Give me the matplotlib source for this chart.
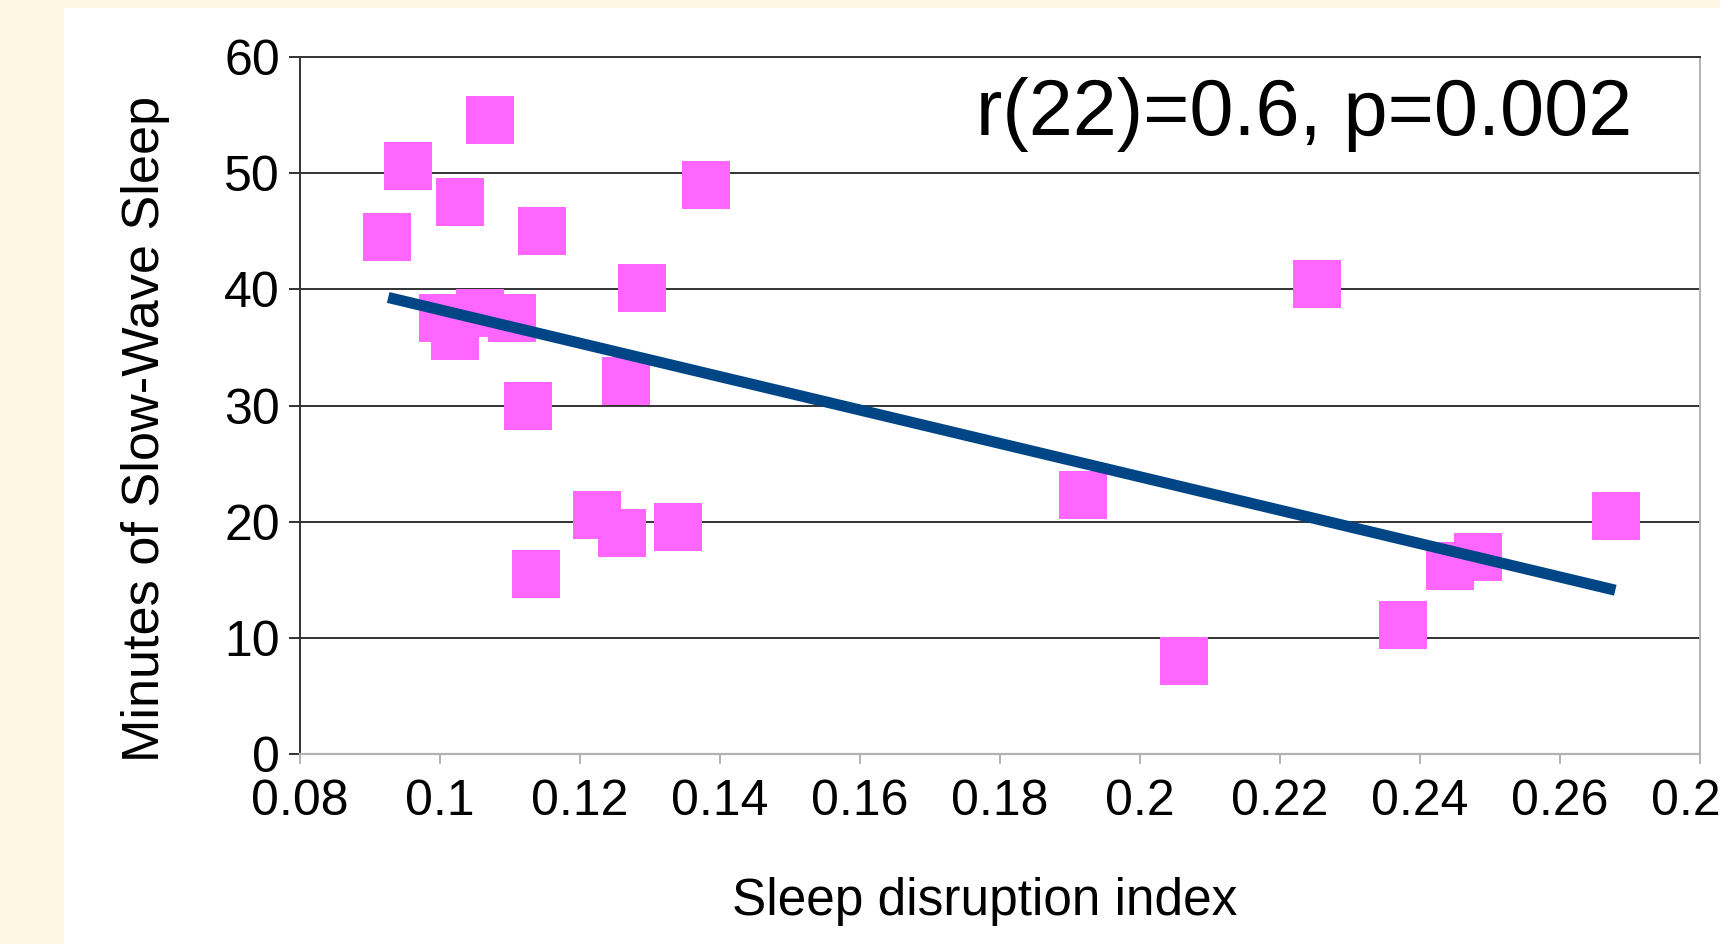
import matplotlib
matplotlib.use("Agg")
import matplotlib.pyplot as plt
from matplotlib.patches import Rectangle

# values
disruption = [0.0924, 0.0954, 0.1071, 0.1029, 0.1145, 0.1380, 0.1289, 0.2253,
              0.1004, 0.1021, 0.1057, 0.1103, 0.1126, 0.1266, 0.1224, 0.1260,
              0.1340, 0.1137, 0.1919, 0.2063, 0.2375, 0.2443, 0.2483, 0.2680]
sws_minutes = [44.5, 50.6, 54.6, 47.5, 45.0, 49.0, 40.1, 40.5,
               37.5, 36.0, 38.0, 37.5, 30.0, 32.1, 20.6, 19.0,
               19.5, 15.5, 22.3, 8.0, 11.1, 16.2, 17.0, 20.5]

# ends of the trend line
trend_x = [0.0926, 0.2679]
trend_y = [39.3, 14.1]

x_ticks = [0.08, 0.1, 0.12, 0.14, 0.16, 0.18, 0.2, 0.22, 0.24, 0.26, 0.28]
x_tick_labels = ["0.08", "0.1", "0.12", "0.14", "0.16", "0.18", "0.2", "0.22", "0.24", "0.26", "0.28"]
y_ticks = [0, 10, 20, 30, 40, 50, 60]

stats_text = "r(22)=0.6, p=0.002"

plt.rcParams['font.family'] = ['Liberation Sans', 'DejaVu Sans']

W, H = 1720, 944
fig = plt.figure(figsize=(W / 100, H / 100), dpi=100, facecolor='#fdf6e3')

# white panel over the cream page
fig.patches.append(Rectangle((64 / W, 0), 1 - 64 / W, (H - 8) / H,
                             transform=fig.transFigure, facecolor='white',
                             edgecolor='none', zorder=-10))

ax = fig.add_axes([300 / W, (H - 754) / H, 1400 / W, 697 / H])
ax.set_facecolor('white')

grid_col = '#333333'
light_col = '#b3b3b3'

# horizontal grid lines
for yv in y_ticks[1:]:
    ax.axhline(yv, color=grid_col, lw=1.4, zorder=1)

# data points and trend line
ax.plot(disruption, sws_minutes, 's', ms=34, mew=0, color='#ff66ff', zorder=3)
ax.plot(trend_x, trend_y, color='#004586', lw=8, solid_capstyle='butt', zorder=4)

ax.set_xlim(0.08, 0.28)
ax.set_ylim(0, 60)
ax.set_xticks(x_ticks)
ax.set_xticklabels(x_tick_labels)
ax.set_yticks(y_ticks)

# Formatting Axes
ax.spines['left'].set_color(grid_col)
ax.spines['left'].set_linewidth(1.4)
ax.spines['top'].set_color(grid_col)
ax.spines['top'].set_linewidth(1.4)
ax.spines['right'].set_color(light_col)
ax.spines['right'].set_linewidth(1.4)
ax.spines['bottom'].set_color(light_col)
ax.spines['bottom'].set_linewidth(1.6)

ax.tick_params(axis='y', direction='out', length=8, width=1.4, color=grid_col,
               pad=6.5, labelsize=36, labelcolor='black')
ax.tick_params(axis='x', direction='out', length=7, width=1.4, color=light_col,
               pad=11, labelsize=36, labelcolor='black')

ax.set_xlabel("Sleep disruption index", fontsize=37, va='center')
ax.xaxis.set_label_coords(0.489, -0.211)
ax.set_ylabel("Minutes of Slow-Wave Sleep", fontsize=37.6, va='center')
ax.yaxis.set_label_coords(-0.1106, 0.466)

ax.text(0.717, 0.888, stats_text, transform=ax.transAxes, fontsize=57,
        ha='center', va='baseline', color='black', zorder=5)

plt.savefig("out.png", dpi=100, facecolor=fig.get_facecolor())
